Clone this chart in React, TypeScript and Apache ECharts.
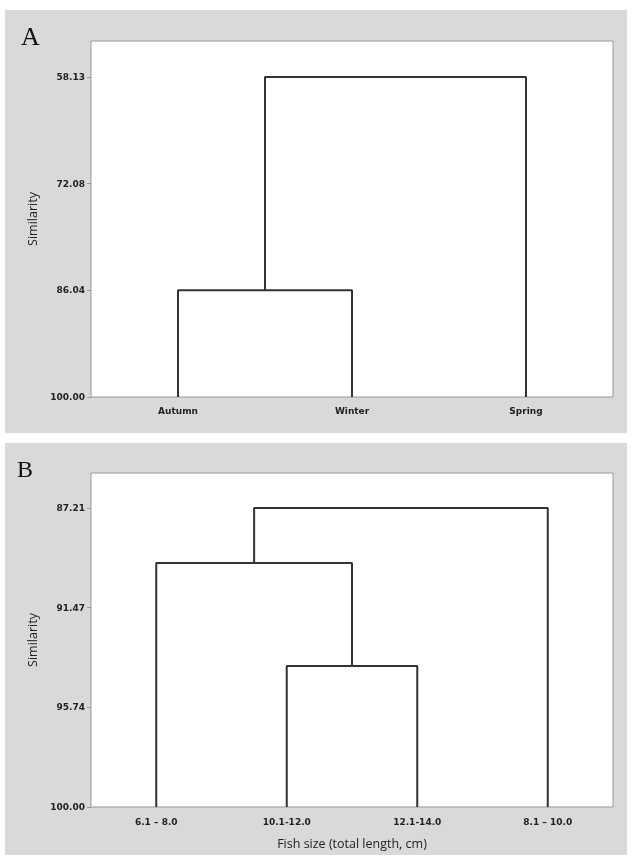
import React, { useEffect, useRef } from "react";
import * as echarts from "echarts";

// Panel A: seasons
const seasonCategories = ["Autumn", "Winter", "Spring"];
const seasonMergeLeft = [0, 3];
const seasonMergeRight = [1, 2];
const seasonMergeHeight = [86.04, 58.13];
const seasonTicks = [58.13, 72.08, 86.04, 100.0];

// Panel B: fish size
const sizeCategories = ["6.1 \u2013 8.0", "10.1-12.0", "12.1-14.0", "8.1 \u2013 10.0"];
const sizeMergeLeft = [1, 0, 5];
const sizeMergeRight = [2, 4, 3];
const sizeMergeHeight = [93.97, 89.56, 87.21];
const sizeTicks = [87.21, 91.47, 95.74, 100.0];

function buildLinks(n: number, left: number[], right: number[], heights: number[]) {
  const xs: number[] = [];
  const hs: number[] = [];
  for (let i = 0; i < n; i++) {
    xs.push(i);
    hs.push(100);
  }
  const links: number[][][] = [];
  for (let k = 0; k < left.length; k++) {
    const a = left[k];
    const b = right[k];
    const h = heights[k];
    links.push([
      [xs[a], hs[a]],
      [xs[a], h],
      [xs[b], h],
      [xs[b], hs[b]],
    ]);
    xs.push((xs[a] + xs[b]) / 2);
    hs.push(h);
  }
  return links;
}

const labelFont = { fontFamily: "DejaVu Sans", fontWeight: "bold" as const, fontSize: 9, color: "#222" };

export default function App() {
  const ref = useRef<HTMLDivElement>(null);
  useEffect(() => {
    if (!ref.current) return;
    const chart = echarts.init(ref.current, undefined, { renderer: "svg" });
    const linksA = buildLinks(seasonCategories.length, seasonMergeLeft, seasonMergeRight, seasonMergeHeight);
    const linksB = buildLinks(sizeCategories.length, sizeMergeLeft, sizeMergeRight, sizeMergeHeight);
    const lineStyle = { color: "#333", width: 2 };
    const series: any[] = [];
    linksA.forEach((l) =>
      series.push({ type: "line", xAxisIndex: 1, yAxisIndex: 0, data: l, symbol: "none", lineStyle, silent: true })
    );
    linksB.forEach((l) =>
      series.push({ type: "line", xAxisIndex: 3, yAxisIndex: 1, data: l, symbol: "none", lineStyle, silent: true })
    );
    const yAxisCommon = (min: number, ticks: number[], grid: number) => ({
      type: "value",
      gridIndex: grid,
      position: "left",
      inverse: true,
      min,
      max: 100,
      name: "Similarity",
      nameLocation: "middle",
      nameRotate: 90,
      nameGap: 52,
      nameTextStyle: { fontFamily: "Open Sans", fontSize: 12.5, color: "#222" },
      axisLine: { show: false, onZero: false },
      splitLine: { show: false },
      axisTick: { show: true, length: 4, customValues: ticks, lineStyle: { color: "#999" } },
      axisLabel: {
        ...labelFont,
        margin: 6,
        customValues: ticks,
        formatter: (v: number) => v.toFixed(2),
      },
    });
    chart.setOption({
      animation: false,
      graphic: [
        { type: "rect", z: -10, shape: { x: 5, y: 10, width: 622, height: 423 }, style: { fill: "#d9d9d9" } },
        { type: "rect", z: -10, shape: { x: 5, y: 443, width: 622, height: 412 }, style: { fill: "#d9d9d9" } },
        {
          type: "text",
          left: 21,
          top: 23,
          style: { text: "A", font: "26px 'Liberation Serif'", fill: "#111" },
        },
        {
          type: "text",
          left: 17,
          top: 457,
          style: { text: "B", font: "24px 'Liberation Serif'", fill: "#111" },
        },
      ],
      grid: [
        { left: 91, top: 41, width: 522, height: 356, show: true, backgroundColor: "#fff", borderColor: "#969696", borderWidth: 1 },
        { left: 91, top: 473, width: 522, height: 334, show: true, backgroundColor: "#fff", borderColor: "#969696", borderWidth: 1 },
      ],
      xAxis: [
        {
          type: "category",
          gridIndex: 0,
          data: seasonCategories,
          boundaryGap: true,
          axisLine: { show: false, onZero: false },
          axisTick: { show: false },
          axisLabel: { ...labelFont, margin: 9 },
        },
        { type: "value", gridIndex: 0, min: -0.5, max: seasonCategories.length - 0.5, show: false, axisLine: { onZero: false } },
        {
          type: "category",
          gridIndex: 1,
          data: sizeCategories,
          boundaryGap: true,
          axisLine: { show: false, onZero: false },
          axisTick: { show: false },
          axisLabel: { ...labelFont, margin: 10 },
          name: "Fish size (total length, cm)",
          nameLocation: "middle",
          nameGap: 30,
          nameTextStyle: { fontFamily: "Open Sans", fontSize: 12.5, color: "#222" },
        },
        { type: "value", gridIndex: 1, min: -0.5, max: sizeCategories.length - 0.5, show: false, axisLine: { onZero: false } },
      ],
      yAxis: [yAxisCommon(53.42, seasonTicks, 0), yAxisCommon(85.71, sizeTicks, 1)],
      series,
    });
    return () => chart.dispose();
  }, []);
  return <div ref={ref} style={{ position: "fixed", left: 0, top: 0, width: 633, height: 858 }} />;
}
